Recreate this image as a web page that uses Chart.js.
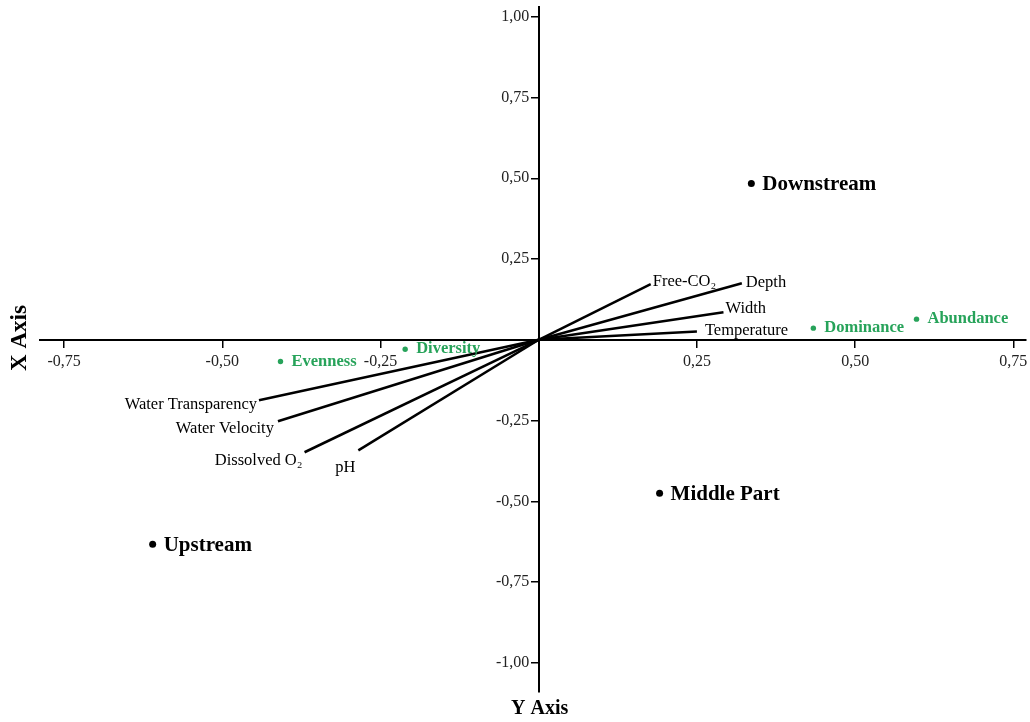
<!DOCTYPE html>
<html lang="en">
<head>
    <meta charset="UTF-8">
    <title>Biplot</title>
    <script src="https://cdn.jsdelivr.net/npm/chart.js"></script>
    <style>
        body {
            margin: 0;
            background-color: #fff;
        }
        #chart-container {
            width: 1030px;
            height: 722px;
        }
    </style>
</head>
<body>
    <div id="chart-container">
        <canvas id="myChart" width="1030" height="722"></canvas>
    </div>
    <script>
        // environmental vectors (arrow tips)
        const vectorNames = ['Free-CO\u2082', 'Depth', 'Width', 'Temperature', 'Water Transparency', 'Water Velocity', 'Dissolved O\u2082', 'pH'];
        const vectorX = [0.177, 0.321, 0.292, 0.250, -0.442, -0.412, -0.370, -0.285];
        const vectorY = [0.172, 0.175, 0.085, 0.026, -0.187, -0.252, -0.348, -0.342];

        // sampling sites
        const siteNames = ['Downstream', 'Middle Part', 'Upstream'];
        const siteX = [0.336, 0.191, -0.610];
        const siteY = [0.484, -0.475, -0.633];

        // community indices
        const indexNames = ['Evenness', 'Diversity', 'Dominance', 'Abundance'];
        const indexX = [-0.408, -0.211, 0.434, 0.597];
        const indexY = [-0.067, -0.029, 0.036, 0.064];

        const xTicks = [-0.75, -0.5, -0.25, 0.25, 0.5, 0.75];
        const yTicks = [-1, -0.75, -0.5, -0.25, 0.25, 0.5, 0.75, 1];

        // label offsets in px from the mark (dx, dy, align)
        const vectorLabelOffsets = [[2, -3, 'left'], [4, -1, 'left'], [2, -4, 'left'], [8, -1, 'left'],
                                    [-2, 4, 'right'], [-4, 7, 'right'], [-2, 8, 'right'], [-3, 17, 'right']];

        const green = '#27a35a';
        const serif = '"Liberation Serif", "Times New Roman", serif';

        const vectorSets = vectorNames.map((name, i) => ({
            type: 'line',
            label: name,
            data: [{x: 0, y: 0}, {x: vectorX[i], y: vectorY[i]}],
            borderColor: '#000',
            borderWidth: 2.5,
            pointRadius: 0,
            fill: false
        }));

        const fmt = v => v === 0 ? '' : v.toFixed(2).replace('.', ',');
        // y labels sit left of the tick mark: pad with trailing spaces
        const yfmt = v => v === 0 ? '' : fmt(v) + '  \u200A';

        // keep the chart area exactly as the layout padding says
        const noPad = s => { s.paddingTop = 0; s.paddingBottom = 0; s.paddingLeft = 0; s.paddingRight = 0; };

        const labelPlugin = {
            id: 'pointLabels',
            afterDatasetsDraw(chart) {
                const c = chart.ctx;
                const xs = chart.scales.x, ys = chart.scales.y;
                c.save();
                c.textBaseline = 'middle';

                c.font = '16.5px ' + serif;
                c.fillStyle = '#000';
                vectorNames.forEach((name, i) => {
                    const o = vectorLabelOffsets[i];
                    c.textAlign = o[2];
                    c.fillText(name, xs.getPixelForValue(vectorX[i]) + o[0], ys.getPixelForValue(vectorY[i]) + o[1]);
                });

                c.textAlign = 'left';
                c.font = 'bold 21px ' + serif;
                siteNames.forEach((name, i) => {
                    c.fillText(name, xs.getPixelForValue(siteX[i]) + 11, ys.getPixelForValue(siteY[i]) + 1);
                });

                c.font = 'bold 16.5px ' + serif;
                c.fillStyle = green;
                indexNames.forEach((name, i) => {
                    c.fillText(name, xs.getPixelForValue(indexX[i]) + 11, ys.getPixelForValue(indexY[i]));
                });

                // axis titles (swapped as in the original figure)
                c.fillStyle = '#000';
                c.textAlign = 'center';
                c.font = 'bold 20px ' + serif;
                c.fillText('Y Axis', xs.getPixelForValue(0) + 1, 709);
                c.translate(20, 338);
                c.rotate(-Math.PI / 2);
                c.font = 'bold 23px ' + serif;
                c.fillText('X Axis', 0, 0);
                c.restore();
            }
        };

        const ctx = document.getElementById('myChart').getContext('2d');
        const myChart = new Chart(ctx, {
            type: 'scatter',
            data: {
                datasets: [
                    ...vectorSets,
                    {
                        label: 'Sites',
                        data: siteX.map((x, i) => ({x: x, y: siteY[i]})),
                        backgroundColor: '#000',
                        borderWidth: 0,
                        pointRadius: 3.5
                    },
                    {
                        label: 'Indices',
                        data: indexX.map((x, i) => ({x: x, y: indexY[i]})),
                        backgroundColor: green,
                        borderWidth: 0,
                        pointRadius: 2.7
                    }
                ]
            },
            options: {
                responsive: false,
                animation: false,
                layout: {
                    padding: {left: 40, right: 2, top: 7, bottom: 30}
                },
                scales: {
                    x: {
                        type: 'linear',
                        position: {y: 0},
                        min: -0.788,
                        max: 0.77,
                        afterBuildTicks: axis => { axis.ticks = xTicks.map(v => ({value: v})); },
                        afterFit: noPad,
                        border: {color: '#000', width: 2},
                        grid: {drawOnChartArea: false, drawTicks: true, tickLength: 7, color: '#000', lineWidth: 1.5},
                        ticks: {
                            color: '#222',
                            padding: 5,
                            maxRotation: 0,
                            font: {family: serif, size: 16},
                            callback: fmt
                        }
                    },
                    y: {
                        type: 'linear',
                        position: {x: 0},
                        min: -1.09,
                        max: 1.03,
                        afterBuildTicks: axis => { axis.ticks = yTicks.map(v => ({value: v})); },
                        afterFit: noPad,
                        border: {color: '#000', width: 2},
                        grid: {drawOnChartArea: false, drawTicks: true, tickLength: 7, color: '#000', lineWidth: 1.5},
                        ticks: {
                            color: '#222',
                            font: {family: serif, size: 16},
                            callback: yfmt
                        }
                    }
                },
                plugins: {
                    legend: {display: false},
                    title: {display: false},
                    tooltip: {enabled: false}
                }
            },
            plugins: [labelPlugin]
        });
    </script>
</body>
</html>
